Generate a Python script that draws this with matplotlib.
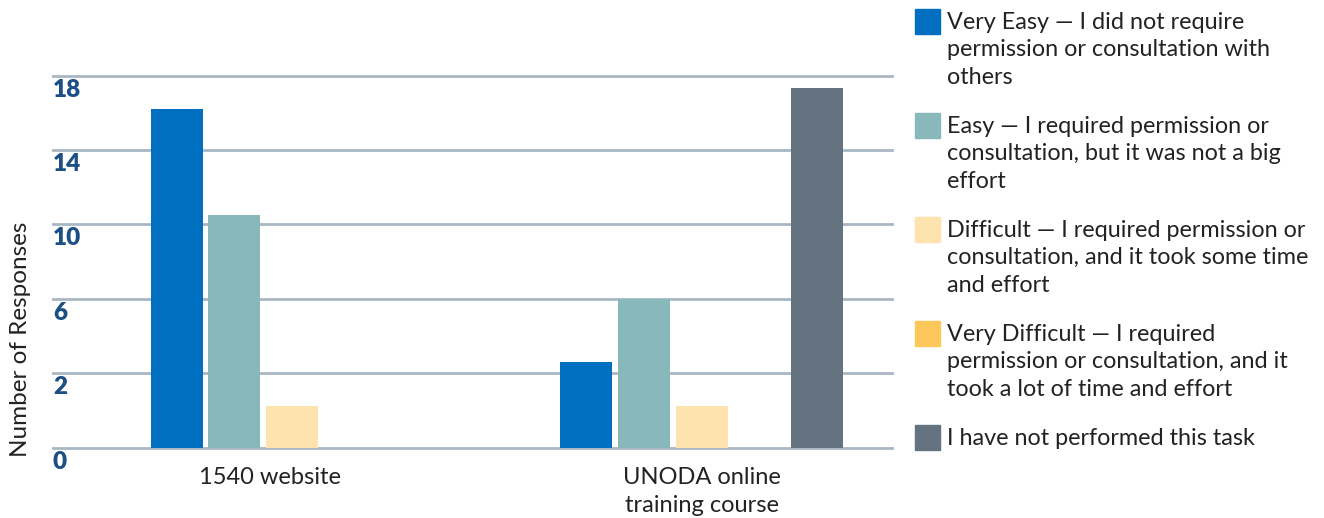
import matplotlib
matplotlib.use("Agg")
import matplotlib.pyplot as plt
from matplotlib.patches import Rectangle
import numpy as np

plt.rcParams["font.family"] = ["Lato", "DejaVu Sans"]

# Survey data
groups = ["1540 website", "UNODA online\ntraining course"]
categories = [
    "Very Easy \u2014 I did not require\npermission or consultation with\nothers",
    "Easy \u2014 I required permission or\nconsultation, but it was not a big\neffort",
    "Difficult \u2014 I required permission or\nconsultation, and it took some time\nand effort",
    "Very Difficult \u2014 I required\npermission or consultation, and it\ntook a lot of time and effort",
    "I have not performed this task",
]
colors = ["#006fc0", "#89b8ba", "#fee3ae", "#fec75c", "#64737f"]
values = {
    "1540 website": [18.2, 12.5, 2.25, 0, 0],
    "UNODA online": [4.6, 8.0, 2.25, 0, 19.35],
}
grid_values = [0, 4, 8, 12, 16, 20]
tick_labels = ["0", "2", "6", "10", "14", "18"]

fig = plt.figure(figsize=(13.24, 5.18), dpi=100)
ax = fig.add_axes([0.0400, 0.1357, 0.6337, 0.7182])

centers = np.arange(len(groups))
step = 0.141
width = 0.127
series = list(values.values())
for i, (cat, col) in enumerate(zip(categories, colors)):
    vals = [s[i] for s in series]
    ax.bar(centers + (i - 2) * step, vals, width, color=col, zorder=3)

for g in grid_values:
    ax.axhline(g, color="#a9b7c4", linewidth=2, zorder=1, clip_on=False)

ax.set_xlim(-0.584, 1.465)
ax.set_ylim(0, 20)
ax.set_yticks([])
ax.set_xticks([])
for sp in ax.spines.values():
    sp.set_visible(False)

# y labels sit just under each gridline at the left edge
for g, lab in zip(grid_values, tick_labels):
    ax.annotate(lab, (0, g), xycoords=ax.get_yaxis_transform(),
                xytext=(0, -3), textcoords="offset pixels",
                ha="left", va="top", fontsize=17.5, fontweight="heavy",
                color="#1c4f86")

label_x = [centers[0] - 0.055, centers[1]]
for x, lab in zip(label_x, groups):
    ax.annotate(lab, (x, 0), xycoords="data", xytext=(0, -19),
                textcoords="offset pixels", ha="center", va="top",
                fontsize=17, color="#222222", linespacing=1.4)

fig.text(0.0155, 0.345, "Number of Responses", rotation=90, ha="center",
         va="center", fontsize=17.5, color="#222222")

# legend drawn as squares and wrapped text
W, H = 1324, 518
for i, (cat, col) in enumerate(zip(categories, colors)):
    top = 9 + i * 104
    fig.patches.append(Rectangle((915 / W, 1 - (top + 25) / H), 25 / W, 25 / H,
                                 transform=fig.transFigure, color=col))
    fig.text(947 / W, 1 - (top + 3) / H, cat, ha="left", va="top",
             fontsize=16.8, color="#222222", linespacing=1.37)

fig.savefig("out.png", dpi=100)
